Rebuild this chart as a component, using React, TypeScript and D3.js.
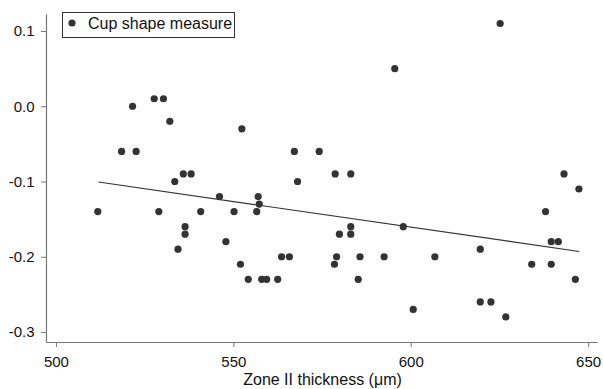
import React, { useRef, useEffect } from "react";
import * as d3 from "d3";

// zone II thickness (µm) vs cup shape measure
const thickness = [
  511.8, 518.5, 521.6, 522.6, 527.7, 529.0, 530.3, 532.1, 533.5, 534.4,
  535.9, 536.4, 536.4, 538.1, 540.8, 546.1, 547.9, 550.2, 552.0, 552.4,
  554.2, 556.6, 557.0, 557.3, 558.0, 559.4, 562.5, 563.6, 565.8, 567.2,
  568.1, 574.2, 578.5, 578.7, 579.1, 579.9, 583.1, 583.1, 583.1, 585.2,
  585.7, 592.5, 595.5, 597.9, 600.7, 606.8, 619.6, 619.6, 622.6, 625.2,
  626.8, 634.1, 638.0, 639.6, 639.6, 641.6, 643.2, 646.4, 647.4,
];
const cupShape = [
  -0.14, -0.06, 0.0, -0.06, 0.01, -0.14, 0.01, -0.02, -0.10, -0.19,
  -0.09, -0.16, -0.17, -0.09, -0.14, -0.12, -0.18, -0.14, -0.21, -0.03,
  -0.23, -0.14, -0.12, -0.13, -0.23, -0.23, -0.23, -0.20, -0.20, -0.06,
  -0.10, -0.06, -0.21, -0.09, -0.20, -0.17, -0.09, -0.16, -0.17, -0.23,
  -0.20, -0.20, 0.05, -0.16, -0.27, -0.20, -0.19, -0.26, -0.26, 0.11,
  -0.28, -0.21, -0.14, -0.18, -0.21, -0.18, -0.09, -0.23, -0.11,
];

// fitted line end points (x, y)
const fitX = [512, 647.5];
const fitY = [-0.1007, -0.193];

const xTicks = [500, 550, 600, 650];
const yTicks = [0.1, 0.0, -0.1, -0.2, -0.3];
const yTickLabels = ["0.1", "0.0", "-0.1", "-0.2", "-0.3"];

const legendLabel = "Cup shape measure";
const xTitle = "Zone II thickness (\u03bcm)";

const App = () => {
  const ref = useRef<SVGSVGElement>(null);

  useEffect(() => {
    const width = 603;
    const height = 389;
    const font = "Arial, 'Liberation Sans', sans-serif";
    const axisColor = "#777";

    const x = d3.scaleLinear().domain([497.2, 652.5]).range([46, 597]);
    const y = d3.scaleLinear().domain([-0.3133, 0.1226]).range([342, 14]);

    const svg = d3.select(ref.current);
    svg.selectAll("*").remove();
    svg.attr("width", width).attr("height", height);

    svg.append("rect").attr("width", width).attr("height", height).attr("fill", "#fff");

    const xAxis = svg.append("g")
      .attr("transform", `translate(0,${y.range()[0]})`)
      .call(d3.axisBottom(x).tickValues(xTicks).tickFormat(d3.format("d")).tickSize(5).tickSizeOuter(0));
    const yAxis = svg.append("g")
      .attr("transform", `translate(${x.range()[0]},0)`)
      .call(d3.axisLeft(y).tickValues(yTicks)
        .tickFormat((_, i) => yTickLabels[i]).tickSize(5).tickSizeOuter(0));

    for (const g of [xAxis, yAxis]) {
      g.select(".domain").attr("stroke", axisColor).attr("stroke-width", 1.2);
      g.selectAll(".tick line").attr("stroke", axisColor).attr("stroke-width", 1);
      g.selectAll(".tick text")
        .attr("fill", "#111")
        .attr("font-family", font)
        .attr("font-size", 15);
    }
    xAxis.selectAll(".tick text").attr("dy", "1.15em");
    yAxis.selectAll(".tick text").attr("x", -11.5);

    // regression line
    const line = d3.line<number>()
      .x(d => x(d))
      .y((_, i) => y(fitY[i]));
    svg.append("path")
      .attr("d", line(fitX))
      .attr("fill", "none")
      .attr("stroke", "#333")
      .attr("stroke-width", 1.2);

    svg.append("g")
      .selectAll("circle")
      .data(thickness)
      .join("circle")
      .attr("cx", d => x(d))
      .attr("cy", (_, i) => y(cupShape[i]))
      .attr("r", 3.6)
      .attr("fill", "#333");

    // legend
    const legend = svg.append("g");
    legend.append("rect")
      .attr("x", 62.5).attr("y", 12.5)
      .attr("width", 172).attr("height", 25)
      .attr("fill", "#fff").attr("stroke", "#333").attr("stroke-width", 1);
    legend.append("circle").attr("cx", 72).attr("cy", 23).attr("r", 3.6).attr("fill", "#333");
    legend.append("text")
      .attr("x", 88).attr("y", 28.5)
      .attr("font-family", font).attr("font-size", 16)
      .attr("fill", "#111")
      .text(legendLabel);

    svg.append("text")
      .attr("x", (x.range()[0] + x.range()[1]) / 2 + 1)
      .attr("y", 385)
      .attr("text-anchor", "middle")
      .attr("font-family", font).attr("font-size", 16)
      .attr("fill", "#111")
      .text(xTitle);
  }, []);

  return <svg ref={ref} style={{ position: "absolute", left: 0, top: 0 }} />;
};

export default App;
